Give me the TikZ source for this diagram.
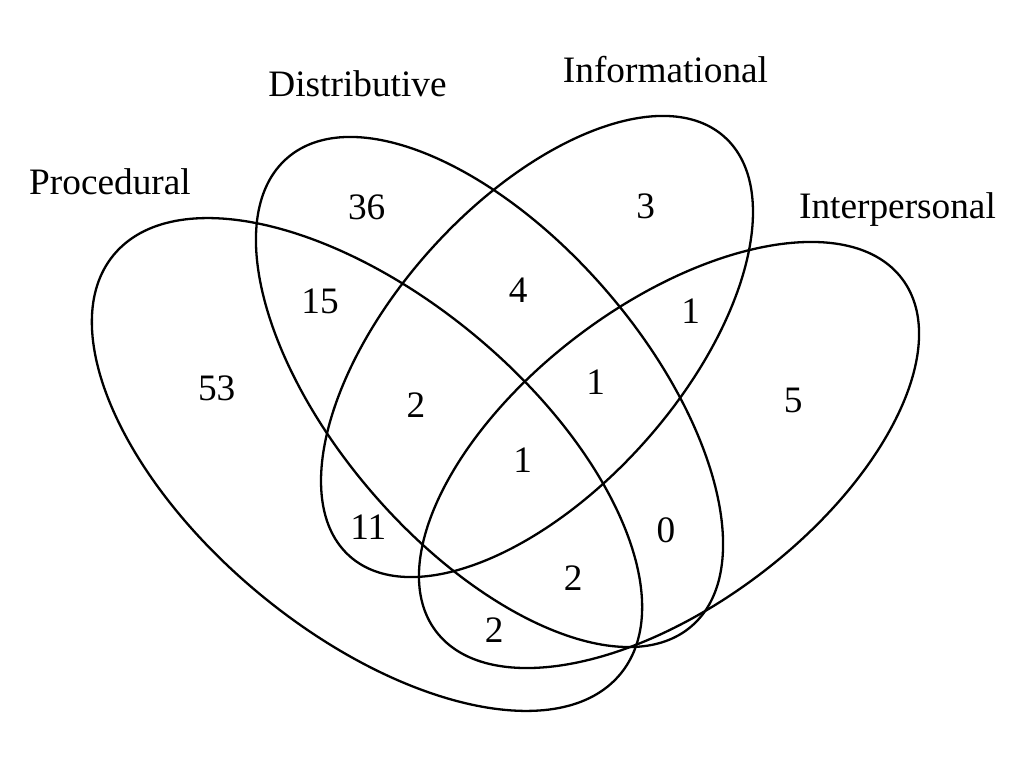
\documentclass[tikz,border=0pt]{standalone}
\usepackage{fontspec}
\setmainfont{Liberation Serif}
\begin{document}
\begin{tikzpicture}[x=1pt,y=1pt,
  setline/.style={line width=2.3pt, black},
  lab/.style={font=\fontsize{37.3}{41}\selectfont, inner sep=0pt, anchor=base},
  num/.style={font=\fontsize{37.3}{41}\selectfont, inner sep=0pt, anchor=center}]
\useasboundingbox (0,0) rectangle (1024,768);
% ellipses (y = 768 - image y)
\draw[setline, rotate around={-39.6:(367,303.5)}] (367,303.5) ellipse [x radius=328.8, y radius=168.2];
\draw[setline, rotate around={-49.2:(489.5,376)}] (489.5,376) ellipse [x radius=309.3, y radius=154.6];
\draw[setline, rotate around={48.2:(537,421.5)}] (537,421.5) ellipse [x radius=281.2, y radius=143.9];
\draw[setline, rotate around={37.1:(669,313)}] (669,313) ellipse [x radius=292.2, y radius=150.0];
% set names
\node[lab] (nproc) at (110,573) {Procedural};
\node[lab] (ndist) at (357.5,671) {Distributive};
\node[lab] (ninfo) at (665.5,685) {Informational};
\node[lab] (ninter) at (897.5,549) {Interpersonal};
% counts
\node[num] (c1000) at (216.7,379.7) {53};
\node[num] (c0100) at (366.7,560.7) {36};
\node[num] (c1100) at (320,466.3) {15};
\node[num] (c1110) at (416,363) {2};
\node[num] (c0110) at (518.3,478) {4};
\node[num] (c0010) at (645.7,561.3) {3};
\node[num] (c0011) at (690.7,457.3) {1};
\node[num] (c0111) at (595.7,385.7) {1};
\node[num] (c0001) at (793.3,368) {5};
\node[num] (c1111) at (522.7,308) {1};
\node[num] (c1010) at (368.3,241.3) {11};
\node[num] (c0101) at (666,238) {0};
\node[num] (c1101) at (573.3,189.7) {2};
\node[num] (c1001) at (494.3,138) {2};
\end{tikzpicture}
\end{document}
